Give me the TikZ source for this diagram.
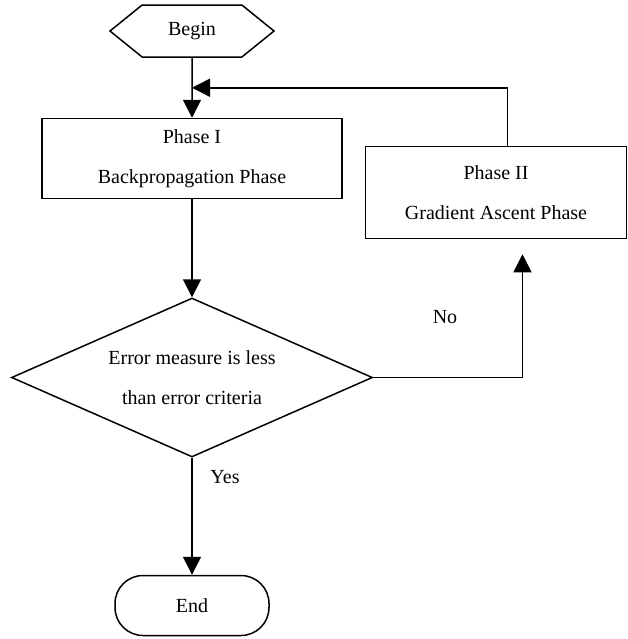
\documentclass[tikz,border=0pt]{standalone}
\usepackage{fontspec}
\setmainfont{Liberation Serif}
\usetikzlibrary{arrows.meta, positioning, shapes.geometric, shapes.symbols, calc}

\begin{document}
\begin{tikzpicture}[
    x=0.5pt, y=-0.5pt,
    font=\fontsize{10pt}{20pt}\selectfont,
    phase/.style={rectangle, draw, line width=0.75pt, align=center, inner sep=0pt},
    terminal/.style={signal, signal to=west and east, signal pointer angle=78, draw, line width=0.75pt, minimum width=82pt, minimum height=26pt, inner sep=0pt},
    stopbox/.style={rectangle, rounded corners=14pt, draw, line width=0.75pt, minimum width=77pt, minimum height=30pt},
    decision/.style={diamond, aspect=2.27, draw, line width=0.75pt, align=center, minimum width=180.5pt, minimum height=79.5pt, inner sep=0pt},
    arrow/.style={-{Triangle[length=9pt, width=9pt]}, line width=0.75pt}
]
\useasboundingbox (0,0) rectangle (628,639);
\node[terminal] (start) at (192,31) {Begin};
\node[phase, minimum width=150pt, minimum height=40pt, below=30pt of start] (phase1) {Phase I\\Backpropagation Phase};
\node[phase, minimum width=130.5pt, minimum height=46pt, below right=14pt and 11pt of phase1.north east] (phase2) {Phase II\\Gradient Ascent Phase};
\node[decision, below=49pt of phase1] (check) {Error measure is less\\than error criteria};
\node[stopbox, below=58.5pt of check] (finish) {End};
\node (nolabel) at (445,317) {No};
\node (yeslabel) at (225,477) {Yes};
\coordinate (merge) at ($(start.south)!0.5!(phase1.north)$);
\draw[arrow] (start) -- (phase1);
\draw[arrow] ([xshift=5.75pt]phase2.north) |- (merge);
\draw[arrow] (phase1) -- (check);
\draw[arrow, shorten >=7.5pt] (check.east) -| ([xshift=13.25pt]phase2.south);
\draw[arrow] (check) -- (finish);
\end{tikzpicture}
\end{document}
